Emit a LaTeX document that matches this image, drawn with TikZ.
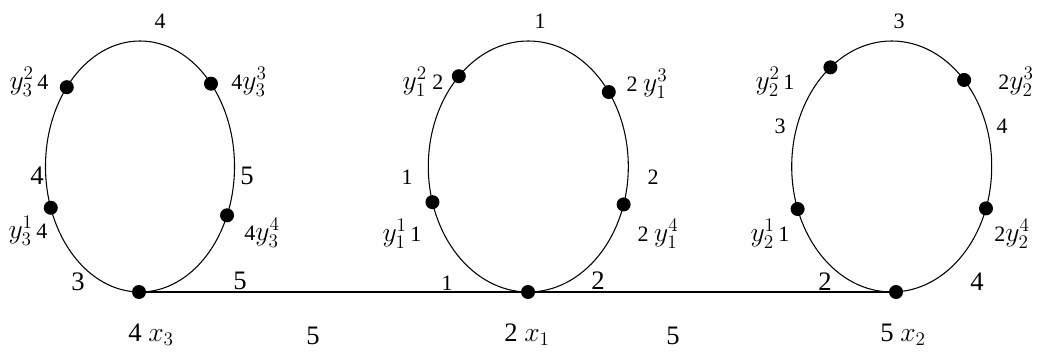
\documentclass[tikz,border=0pt]{standalone}
\usepackage{fontspec}
\setmainfont{Liberation Serif}
\newcommand\yv[2]{{\fontsize{21}{23}\selectfont$y_{#1}^{#2}$}}
\newcommand\xv[1]{{\fontsize{21}{23}\selectfont$x_{#1}$}}
\begin{document}
\begin{tikzpicture}[x=0.75pt,y=-0.75pt,
  dot/.style={circle,fill=black,inner sep=0pt,minimum size=10.5pt},
  edge/.style={line width=0.8pt},
  lab/.style={inner sep=0pt,font=\fontsize{16.5}{18}\selectfont},
  big/.style={inner sep=0pt,font=\fontsize{20}{22}\selectfont}]
\useasboundingbox (0,0) rectangle (1041,356);
% cycles
\draw[edge] (140,166.5) ellipse [x radius=94.5, y radius=125.5];
\draw[edge] (528.3,166.5) ellipse [x radius=100, y radius=125.5];
\draw[edge] (891.7,166.5) ellipse [x radius=100, y radius=125.5];
% vertices
\node[dot] (x3) at (139,292) {};
\node[dot] (x1) at (528,292) {};
\node[dot] (x2) at (896,292) {};
\node[dot] (y32) at ({140+94.5*cos(-140.8)},{166.5+125.5*sin(-140.8)}) {};
\node[dot] (y33) at ({140+94.5*cos(-41.3)},{166.5+125.5*sin(-41.3)}) {};
\node[dot] (y31) at ({140+94.5*cos(160.8)},{166.5+125.5*sin(160.8)}) {};
\node[dot] (y34) at ({140+94.5*cos(22.9)},{166.5+125.5*sin(22.9)}) {};
\node[dot] (y12) at ({528.3+100*cos(-134)},{166.5+125.5*sin(-134)}) {};
\node[dot] (y13) at ({528.3+100*cos(-36.4)},{166.5+125.5*sin(-36.4)}) {};
\node[dot] (y11) at ({528.3+100*cos(163.5)},{166.5+125.5*sin(163.5)}) {};
\node[dot] (y14) at ({528.3+100*cos(17.6)},{166.5+125.5*sin(17.6)}) {};
\node[dot] (y22) at ({891.7+100*cos(-127.8)},{166.5+125.5*sin(-127.8)}) {};
\node[dot] (y23) at ({891.7+100*cos(-43.6)},{166.5+125.5*sin(-43.6)}) {};
\node[dot] (y21) at ({891.7+100*cos(160.2)},{166.5+125.5*sin(160.2)}) {};
\node[dot] (y24) at ({891.7+100*cos(19.5)},{166.5+125.5*sin(19.5)}) {};
% path between centres
\draw[edge] (x3) -- (x1) -- (x2);
% labels cycle 3
\node[lab] (l1) at (160,21) {4};
\node[lab] (l2) at (29,82) {\yv32\,4};
\node[lab] (l3) at (249,82) {4\yv33};
\node[big] (l4) at (37,176) {4};
\node[big] (l5) at (247,176) {5};
\node[lab] (l6) at (28,231) {\yv31\,4};
\node[lab] (l7) at (262,233) {4\yv34};
\node[big] (l8) at (78,282) {3};
\node[big] (l9) at (240,281) {5};
\node[big] (l10) at (151,335) {4 \xv3};
\node[big] (l11) at (313,336) {5};
% labels cycle 1
\node[lab] (m1) at (540,21) {1};
\node[lab] (m2) at (423,82) {\yv12\ 2};
\node[lab] (m3) at (647,84) {2 \yv13};
\node[lab] (m4) at (407,177) {1};
\node[lab] (m5) at (653,177) {2};
\node[lab] (m6) at (402,234) {\yv11\,1};
\node[lab] (m7) at (658,234) {2 \yv14};
\node[lab] (m8) at (447,283) {1};
\node[big] (m9) at (598,281) {2};
\node[big] (m10) at (527,335) {2 \xv1};
\node[big] (m11) at (673,336) {5};
% labels cycle 2
\node[lab] (n1) at (899,21) {3};
\node[lab] (n2) at (775,82) {\yv22\,1};
\node[lab] (n3) at (1016,82) {2\yv23};
\node[lab] (n4) at (780,126) {3};
\node[lab] (n5) at (1002,126) {4};
\node[lab] (n6) at (770,234) {\yv21\,1};
\node[lab] (n7) at (1012,234) {2\yv24};
\node[big] (n8) at (825,282) {2};
\node[big] (n9) at (977,282) {4};
\node[big] (n10) at (903,335) {5 \xv2};
\end{tikzpicture}
\end{document}
